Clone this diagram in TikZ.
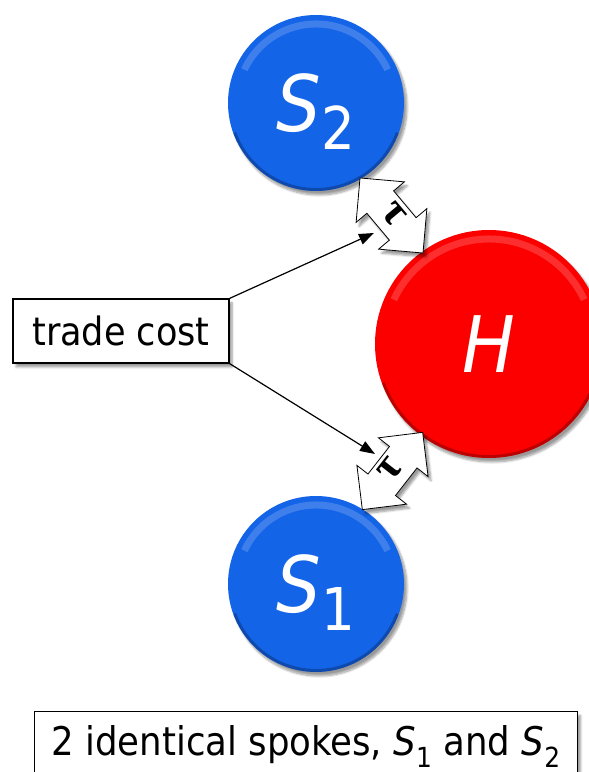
\documentclass[tikz,border=0pt]{standalone}
\usepackage{fontspec}
\setmainfont{DejaVu Sans Condensed}
\newfontfamily\taufont{Liberation Serif}
\usetikzlibrary{positioning, calc, arrows.meta, shapes.arrows, shadows, shadows.blur}
\definecolor{spokeblue}{RGB}{20,100,232}
\definecolor{hubred}{RGB}{252,0,0}

\begin{document}
\begin{tikzpicture}[x=1pt, y=1pt,
    % Node styles
    ball/.style={circle, minimum size={2*#1pt}, inner sep=0pt, text=white, text depth=0pt,
        font=\fontsize{78}{80}\selectfont,
        blur shadow={shadow xshift=3pt, shadow yshift=-4pt, shadow blur steps=8},
        path picture={
            \draw[white, opacity=.18, line width=7pt]
                ($(path picture bounding box.center)+(155:#1-9)$) arc[start angle=155, end angle=25, radius=#1-9];
            \draw[black, opacity=.25, line width=4pt]
                ($(path picture bounding box.center)+(200:#1-1)$) arc[start angle=200, end angle=340, radius=#1-1];
        }},
    spoke/.style={ball=88, fill=spokeblue},
    hub/.style={ball=114, fill=hubred},
    box/.style={draw, line width=1.2pt, fill=white, inner sep=0pt,
        blur shadow={shadow xshift=3pt, shadow yshift=-4pt, shadow blur steps=6}},
    cost/.style={box, minimum width=216pt, minimum height=64pt, font=\fontsize{39}{42}\selectfont},
    caption/.style={box, minimum width=543pt, text height=32pt, text depth=12pt, inner ysep=12pt,
        font=\fontsize{39.5}{42}\selectfont},
    tau/.style={double arrow, draw, fill=white, line width=.8pt, double arrow head extend=14pt,
        minimum height=98pt, minimum width=63pt, text height=14pt, text depth=0pt,
        inner ysep=10pt, inner xsep=2pt,
        font=\taufont\bfseries\fontsize{44}{44}\selectfont,
        blur shadow={shadow xshift=3pt, shadow yshift=-4pt, shadow blur steps=6}},
    % Arrow styles
    pointer/.style={-{Triangle[length=15pt, width=11pt]}, line width=1.2pt},
]
    \useasboundingbox (0,0) rectangle (589,772);

    % Hub and spokes
    \node[spoke] (s2) at (316,669) {\itshape S\raisebox{-18pt}{\upshape\fontsize{59}{60}\selectfont 2}};
    \node[spoke] (s1) at (316,188) {\itshape S\raisebox{-18pt}{\upshape\fontsize{59}{60}\selectfont 1}};
    \node[hub] (h) at (489,428) {\itshape H};

    % Trade cost arrows
    \node[tau, rotate=-50] (tauTop) at (391.5,556.5) {τ};
    \node[tau, rotate=52] (tauBottom) at (392.5,301) {τ};

    % Labels
    \node[cost] (tradeCost) at (121,441) {trade cost};
    \node[caption, anchor=north west] (spokes) at (34,61)
        {2 identical spokes, \textit{S}\textsubscript{1} and \textit{S}\textsubscript{2}};

    % Pointers
    \coordinate (tipTop) at (374,539);
    \coordinate (tipBottom) at (375,318);
    \draw[pointer] (tradeCost.north east) -- (tipTop);
    \draw[pointer] (tradeCost.south east) -- (tipBottom);
\end{tikzpicture}
\end{document}
